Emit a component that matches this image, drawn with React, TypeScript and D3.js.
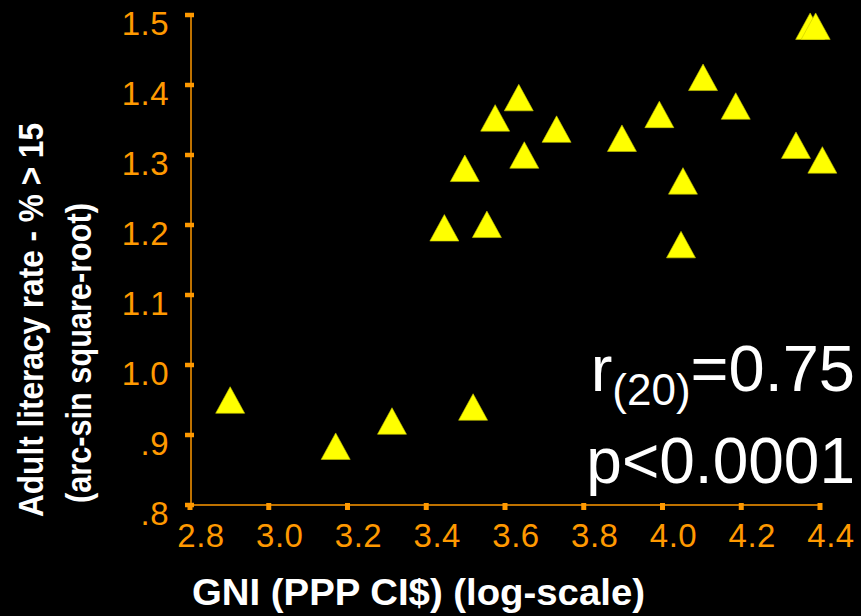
import React from "react";
import * as d3 from "d3";

const W = 861;
const H = 616;

// GNI (log10, PPP) values
const gni = [
  4.375, 4.389, 4.103, 4.186, 3.992, 3.897, 3.635, 3.575, 3.731, 3.649,
  3.498, 4.339, 4.406, 4.052, 3.554, 3.446, 4.047, 2.902, 3.17, 3.313, 3.519,
];
// Adult literacy (arc-sin square-root)
const literacy = [
  1.484, 1.484, 1.411, 1.37, 1.358, 1.324, 1.382, 1.353, 1.337, 1.3,
  1.281, 1.314, 1.293, 1.263, 1.201, 1.196, 1.172, 0.95, 0.884, 0.92, 0.94,
];

const xTicks = [2.8, 3.0, 3.2, 3.4, 3.6, 3.8, 4.0, 4.2, 4.4];
const xTickLabels = ["2.8", "3.0", "3.2", "3.4", "3.6", "3.8", "4.0", "4.2", "4.4"];
const yTicks = [0.8, 0.9, 1.0, 1.1, 1.2, 1.3, 1.4, 1.5];
const yTickLabels = [".8", ".9", "1.0", "1.1", "1.2", "1.3", "1.4", "1.5"];

const xTitle = "GNI (PPP CI$) (log-scale)";
const yTitle1 = "Adult literacy rate - % > 15";
const yTitle2 = "(arc-sin square-root)";

const ORANGE = "#FF9900";
const FONT = "'Liberation Sans', Arial, sans-serif";

export default function App() {
  const x = d3.scaleLinear().domain([2.8, 4.4]).range([190, 820]);
  const y = d3.scaleLinear().domain([0.8, 1.5]).range([505, 15]);
  const tw = 29;
  const th = 26.5;

  const tri = (cx: number, cy: number) => {
    const p = d3.path();
    p.moveTo(cx, cy - th / 2);
    p.lineTo(cx + tw / 2, cy + th / 2);
    p.lineTo(cx - tw / 2, cy + th / 2);
    p.closePath();
    return p.toString();
  };

  return (
    <svg
      width={W}
      height={H}
      style={{ position: "absolute", left: 0, top: 0, display: "block" }}
    >
      <rect x={0} y={0} width={W} height={H} fill="#000" />
      {/* axes */}
      <line x1={x(2.8)} x2={x(4.4)} y1={y(0.8)} y2={y(0.8)} stroke={ORANGE} strokeWidth={1.5} />
      <line x1={x(2.8) + 1} x2={x(2.8) + 1} y1={y(1.5)} y2={y(0.8)} stroke={ORANGE} strokeWidth={1.5} />
      {yTicks.map((t, i) => (
        <g key={"y" + i}>
          <line x1={185} x2={194} y1={y(t)} y2={y(t)} stroke={ORANGE} strokeWidth={4.5} />
          <text
            x={169}
            y={y(t) + 19.5}
            textAnchor="end"
            fill={ORANGE}
            fontFamily={FONT}
            fontSize={33}
            letterSpacing={0.5}
          >
            {yTickLabels[i]}
          </text>
        </g>
      ))}
      {xTicks.map((t, i) => (
        <g key={"x" + i}>
          <line x1={x(t)} x2={x(t)} y1={503} y2={510} stroke={ORANGE} strokeWidth={5} />
          <text
            x={x(t) + 11}
            y={547}
            textAnchor="middle"
            fill={ORANGE}
            fontFamily={FONT}
            fontSize={33}
            letterSpacing={0.5}
          >
            {xTickLabels[i]}
          </text>
        </g>
      ))}
      {/* points */}
      {gni.map((g, i) => (
        <path
          key={"p" + i}
          d={tri(x(g), y(literacy[i]))}
          fill="#FFFF00"
          stroke="#C8C800"
          strokeWidth={0.6}
        />
      ))}
      {/* titles */}
      <text
        x={192}
        y={605}
        fill="#fff"
        fontFamily={FONT}
        fontWeight="bold"
        fontSize={37}
        textLength={453}
        lengthAdjust="spacingAndGlyphs"
      >
        {xTitle}
      </text>
      <text
        transform="translate(43,517) rotate(-90)"
        fill="#fff"
        fontFamily={FONT}
        fontWeight="bold"
        fontSize={35}
        textLength={394}
        lengthAdjust="spacingAndGlyphs"
      >
        {yTitle1}
      </text>
      <text
        transform="translate(91,503) rotate(-90)"
        fill="#fff"
        fontFamily={FONT}
        fontWeight="bold"
        fontSize={35}
        textLength={300}
        lengthAdjust="spacingAndGlyphs"
      >
        {yTitle2}
      </text>
      {/* statistics */}
      <text x={855} y={391} textAnchor="end" fill="#fff" fontFamily={FONT} fontSize={65}>
        r
        <tspan fontSize={44} dy={14}>(20)</tspan>
        <tspan fontSize={65} dy={-14}>=0.75</tspan>
      </text>
      <text x={855} y={483} textAnchor="end" fill="#fff" fontFamily={FONT} fontSize={64}>
        p&lt;0.0001
      </text>
    </svg>
  );
}
